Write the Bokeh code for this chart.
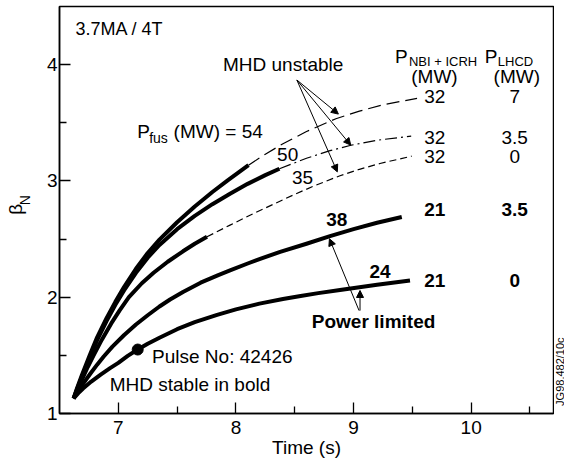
import math
from bokeh.plotting import figure
from bokeh.layouts import row
from bokeh.models import Label, Arrow, NormalHead, FixedTicker, Range1d
from bokeh.core.properties import value
from bokeh.embed import file_html
from bokeh.resources import INLINE

FONT = "Liberation Sans"

# ---- data ----
# P_fus = 54 MW  (NBI+ICRH 32, LHCD 7)
c54_t_stable = [6.62, 6.65, 6.69, 6.757, 6.82, 6.90, 6.975, 7.05, 7.15, 7.25, 7.35, 7.50, 7.65, 7.80, 7.93, 8.107]
c54_b_stable = [1.13, 1.22, 1.33, 1.50, 1.655, 1.82, 1.96, 2.09, 2.245, 2.38, 2.495, 2.645, 2.78, 2.905, 3.005, 3.135]
c54_t_unstable = [8.107, 8.25, 8.40, 8.60, 8.85, 9.05, 9.25, 9.54]
c54_b_unstable = [3.135, 3.23, 3.32, 3.425, 3.535, 3.60, 3.655, 3.71]

# P_fus = 50 MW  (32, 3.5)
c50_t_stable = [6.62, 6.65, 6.69, 6.757, 6.82, 6.90, 6.975, 7.05, 7.15, 7.25, 7.35, 7.50, 7.65, 7.80, 7.95, 8.10, 8.25, 8.37]
c50_b_stable = [1.13, 1.21, 1.315, 1.48, 1.63, 1.795, 1.935, 2.06, 2.21, 2.34, 2.45, 2.585, 2.70, 2.80, 2.89, 2.975, 3.05, 3.105]
c50_t_unstable = [8.37, 8.60, 8.80, 8.97, 9.20, 9.49]
c50_b_unstable = [3.105, 3.195, 3.26, 3.305, 3.35, 3.385]

# P_fus = 35 MW  (32, 0)
c35_t_stable = [6.62, 6.65, 6.69, 6.74, 6.79, 6.86, 6.94, 7.01, 7.09, 7.20, 7.30, 7.42, 7.55, 7.65, 7.754]
c35_b_stable = [1.13, 1.205, 1.29, 1.40, 1.50, 1.635, 1.775, 1.885, 2.00, 2.12, 2.21, 2.305, 2.395, 2.46, 2.52]
c35_t_unstable = [7.754, 7.95, 8.15, 8.32, 8.50, 8.66, 8.885, 9.05, 9.225, 9.494]
c35_b_unstable = [2.52, 2.62, 2.72, 2.80, 2.885, 2.955, 3.045, 3.10, 3.15, 3.213]

# P_fus = 38 MW  (21, 3.5) - power limited
c38_t = [6.62, 6.65, 6.70, 6.76, 6.82, 6.876, 6.95, 7.05, 7.15, 7.25, 7.35, 7.44, 7.55, 7.70,
         7.85, 7.95, 8.10, 8.206, 8.376, 8.60, 8.80, 9.00, 9.20, 9.41]
c38_b = [1.13, 1.18, 1.255, 1.34, 1.42, 1.49, 1.575, 1.675, 1.765, 1.845, 1.92, 1.98, 2.045, 2.125,
         2.19, 2.23, 2.29, 2.33, 2.39, 2.46, 2.525, 2.585, 2.64, 2.69]

# P_fus = 24 MW  (21, 0) - power limited, pulse 42426
c24_t = [6.62, 6.66, 6.70, 6.77, 6.85, 6.93, 7.00, 7.08, 7.165, 7.25, 7.35, 7.50, 7.65, 7.84,
         8.00, 8.20, 8.40, 8.55, 8.70, 8.90, 9.20, 9.48]
c24_b = [1.13, 1.175, 1.215, 1.275, 1.335, 1.39, 1.435, 1.495, 1.55, 1.60, 1.652, 1.725, 1.785, 1.848,
         1.895, 1.945, 1.985, 2.01, 2.035, 2.065, 2.108, 2.144]

pulse_t = [7.165]
pulse_b = [1.55]

# table at right: NBI+ICRH power, LHCD power, row heights
nbi_power = ["32", "32", "32", "21", "21"]
lhcd_power = ["7", "3.5", "0", "3.5", "0"]
row_beta = [3.73, 3.377, 3.213, 2.752, 2.148]
row_bold = [False, False, False, True, True]

x_ticks = [7, 8, 9, 10]
x_minor = [7.5, 8.5, 9.5, 10.5]
y_ticks = [1, 2, 3, 4]
y_minor = [1.5, 2.5, 3.5]

H = 464
LEFT_W = 36
RIGHT_W = 10
MAIN_W = 564 - LEFT_W - RIGHT_W
TOP, BOTTOM = 6, 51

# ---- main figure ----
p = figure(width=MAIN_W, height=H, x_range=Range1d(6.5, 10.7), y_range=Range1d(1, 4.5),
           output_backend="svg", toolbar_location=None,
           min_border_left=59 - LEFT_W, min_border_right=1, min_border_top=TOP, min_border_bottom=BOTTOM)
p.background_fill_color = "white"
p.border_fill_color = "white"
p.outline_line_color = "black"
p.outline_line_width = 1.5
p.xgrid.visible = False
p.ygrid.visible = False

for ax in (p.xaxis[0], p.yaxis[0]):
    ax.axis_line_color = "black"
    ax.axis_line_width = 1.5
    ax.major_tick_in = 11
    ax.major_tick_out = 0
    ax.minor_tick_in = 7
    ax.minor_tick_out = 0
    ax.major_tick_line_width = 1.3
    ax.minor_tick_line_width = 1.3
    ax.major_label_text_font = FONT
    ax.major_label_text_font_size = "19px"
    ax.major_label_text_color = "black"
p.xaxis.ticker = FixedTicker(ticks=x_ticks, minor_ticks=x_minor)
p.yaxis.ticker = FixedTicker(ticks=y_ticks, minor_ticks=y_minor)
p.xaxis.major_label_standoff = 7
p.yaxis.major_label_standoff = 2
p.xaxis.axis_label = "Time (s)"
p.xaxis.axis_label_text_font = FONT
p.xaxis.axis_label_text_font_size = "19px"
p.xaxis.axis_label_text_font_style = "normal"
p.xaxis.axis_label_text_color = "black"
p.xaxis.axis_label_standoff = 0

BOLD_W = 4
THIN_W = 1.2

# unstable (dashed) parts
p.line(c54_t_unstable, c54_b_unstable, line_color="black", line_width=THIN_W, line_dash="13 6")
p.line(c50_t_unstable, c50_b_unstable, line_color="black", line_width=THIN_W, line_dash="12 4 2 4")
p.line(c35_t_unstable, c35_b_unstable, line_color="black", line_width=THIN_W, line_dash="7 4")
# stable (bold) parts
for t, b in ((c54_t_stable, c54_b_stable), (c50_t_stable, c50_b_stable),
             (c35_t_stable, c35_b_stable), (c38_t, c38_b), (c24_t, c24_b)):
    p.line(t, b, line_color="black", line_width=BOLD_W, line_cap="butt", line_join="round")
p.scatter(pulse_t, pulse_b, size=11, color="black")

# arrows
def arrow(x0, y0, x1, y1):
    p.add_layout(Arrow(end=NormalHead(size=7, fill_color="black", line_color="black", line_width=1),
                       x_start=x0, y_start=y0, x_end=x1, y_end=y1,
                       line_color="black", line_width=1))

arrow(8.518, 3.868, 8.871, 3.575)
arrow(8.518, 3.868, 8.976, 3.308)
arrow(8.518, 3.868, 8.862, 3.078)
arrow(9.047, 1.885, 8.795, 2.503)
arrow(9.055, 1.885, 9.055, 2.058)

def label(x, y, text, size="19px", bold=False, align="left"):
    p.add_layout(Label(x=x, y=y, text=text, text_font=FONT, text_font_size=size,
                       text_font_style="bold" if bold else "normal",
                       text_align=align, text_baseline="middle", text_color="black"))

label(6.636, 4.31, "3.7MA / 4T", size="18px")
label(7.89, 4.0, "MHD unstable")
label(7.16, 3.422, "P")
label(7.262, 3.372, "fus", size="14px")
label(7.47, 3.422, "(MW) = 54")
label(8.44, 3.23, "50", align="center")
label(8.567, 3.028, "35", align="center")
label(8.857, 2.67, "38", bold=True, align="center")
label(9.225, 2.217, "24", bold=True, align="center")
label(8.645, 1.79, "Power limited", bold=True)
label(7.287, 1.493, "Pulse No: 42426")
label(6.927, 1.247, "MHD stable in bold")

# table header
label(9.352, 4.07, "P")
label(9.471, 4.023, "NBI + ICRH", size="13px")
label(10.116, 4.07, "P")
label(10.227, 4.023, "LHCD", size="13px")
label(9.688, 3.894, "(MW)", align="center")
label(10.388, 3.894, "(MW)", align="center")
for nb, lh, yb, bd in zip(nbi_power, lhcd_power, row_beta, row_bold):
    label(9.69, yb, nb, bold=bd, align="center")
    label(10.37, yb, lh, bold=bd, align="center")


def strip(width):
    # narrow side panel sharing the main y range, so its frame lines up with the main frame
    f = figure(width=width, height=H, x_range=Range1d(0, width), y_range=p.y_range,
               output_backend="svg", toolbar_location=None, x_axis_type=None, y_axis_type=None,
               min_border_left=0, min_border_right=0, min_border_top=TOP, min_border_bottom=BOTTOM)
    f.outline_line_color = None
    f.xgrid.visible = False
    f.ygrid.visible = False
    f.background_fill_color = "white"
    f.border_fill_color = "white"
    return f

# y axis title (beta_N)
left = strip(LEFT_W)
left.text(x=[15], y=[2.756], text=["β"], angle=math.pi / 2, text_font=value(FONT),
          text_font_size="19px", text_align="center", text_baseline="middle", text_color="black")
left.text(x=[24], y=[2.834], text=["N"], angle=math.pi / 2, text_font=value(FONT),
          text_font_size="14px", text_align="center", text_baseline="middle", text_color="black")

# figure code at the right edge
right = strip(RIGHT_W)
right.text(x=[5], y=[1.36], text=["JG98.482/10c"], angle=math.pi / 2, text_font=value(FONT),
           text_font_size="11px", text_align="center", text_baseline="middle", text_color="black")

layout = row(left, p, right, spacing=0)
open("out.html", "w").write(file_html(layout, INLINE))
